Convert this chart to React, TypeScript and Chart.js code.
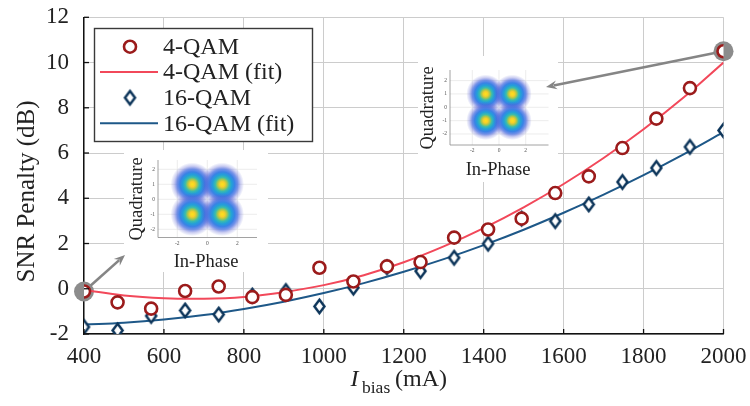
import React, { useEffect, useRef } from "react";
import { Chart, registerables } from "chart.js";
Chart.register(...registerables);

// ---------- data ----------
const biasCurrent = [400, 484, 568, 653, 737, 821, 905, 989, 1074, 1158, 1242, 1326, 1411, 1495, 1579, 1663, 1747, 1832, 1916, 2000];
const qam4Penalty = [-0.12, -0.6, -0.88, -0.1, 0.1, -0.37, -0.27, 0.93, 0.32, 0.99, 1.18, 2.26, 2.62, 3.1, 4.23, 4.97, 6.22, 7.52, 8.87, 10.5];
const qam16Penalty = [-1.69, -1.84, -1.2, -0.96, -1.14, -0.3, -0.1, -0.78, 0.05, 0.95, 0.78, 1.37, 1.99, 3.1, 2.99, 3.73, 4.72, 5.34, 6.27, 7.0];
const fitCurrent = [400, 500, 600, 700, 800, 900, 1000, 1100, 1200, 1300, 1400, 1500, 1600, 1700, 1800, 1900, 2000];
const qam4Fit = [-0.05, -0.3, -0.42, -0.44, -0.36, -0.15, 0.16, 0.6, 1.17, 1.87, 2.68, 3.6, 4.63, 5.78, 7.05, 8.45, 10.0];
const qam16Fit = [-1.58, -1.5, -1.36, -1.16, -0.89, -0.57, -0.19, 0.25, 0.75, 1.31, 1.93, 2.61, 3.36, 4.16, 5.02, 5.94, 6.92];
const xTickValues = [400, 600, 800, 1000, 1200, 1400, 1600, 1800, 2000];
const yTickValues = [-2, 0, 2, 4, 6, 8, 10, 12];
const legendLabels = ["4-QAM", "4-QAM (fit)", "16-QAM", "16-QAM (fit)"];
const insetXTicks = [-2, 0, 2];
const insetYTicks = [2, 1, 0, -1, -2];
const constellationI = [-1, 1, -1, 1];
const constellationQ = [1, 1, -1, -1];

// ---------- styles ----------
const SERIF = '"Liberation Serif", "Times New Roman", "DejaVu Serif", serif';
const RED_MARK = "#9b1b1b";
const RED_FIT = "#f2485a";
const BLUE_MARK = "#0d355a";
const BLUE_FIT = "#1e5888";
const TEXT = "#222222";

function makeDiamond(w: number, h: number, lw: number, stroke: string, fill: string) {
  const c = document.createElement("canvas");
  c.width = Math.ceil(w + lw * 2);
  c.height = Math.ceil(h + lw * 2);
  const ctx = c.getContext("2d")!;
  const cx = c.width / 2, cy = c.height / 2;
  ctx.beginPath();
  ctx.moveTo(cx, cy - h / 2);
  ctx.lineTo(cx + w / 2, cy);
  ctx.lineTo(cx, cy + h / 2);
  ctx.lineTo(cx - w / 2, cy);
  ctx.closePath();
  ctx.fillStyle = fill;
  ctx.fill();
  ctx.lineWidth = lw;
  ctx.strokeStyle = stroke;
  ctx.stroke();
  return c;
}

type Inset = {
  bg: [number, number, number, number];
  left: number; right: number; top: number; bottom: number;
  cx: number; cy: number; unit: number;
  qx: number; qy: number; px: number; py: number;
};

const INSETS: Inset[] = [
  { bg: [124, 150, 268, 272], left: 158, right: 257, top: 160, bottom: 237.5, cx: 207.3, cy: 199.3, unit: 15, qx: 137, qy: 199, px: 206, py: 262 },
  { bg: [418, 56, 558, 182], left: 450, right: 548.5, top: 70, bottom: 145, cx: 499, cy: 107.3, unit: 13.35, qx: 428.5, qy: 108, px: 498, py: 170 },
];

function drawInset(ctx: CanvasRenderingContext2D, s: Inset) {
  ctx.save();
  ctx.fillStyle = "#ffffff";
  ctx.fillRect(s.bg[0], s.bg[1], s.bg[2] - s.bg[0], s.bg[3] - s.bg[1]);
  ctx.strokeStyle = "#e4e4e4";
  ctx.lineWidth = 0.7;
  for (const t of insetXTicks) {
    const x = s.cx + t * s.unit;
    ctx.beginPath(); ctx.moveTo(x, s.top); ctx.lineTo(x, s.bottom); ctx.stroke();
  }
  for (const t of insetYTicks) {
    const y = s.cy - t * s.unit;
    ctx.beginPath(); ctx.moveTo(s.left, y); ctx.lineTo(s.right, y); ctx.stroke();
  }
  ctx.beginPath();
  ctx.rect(s.left, s.top, s.right - s.left, s.bottom - s.top);
  ctx.clip();
  for (let k = 0; k < constellationI.length; k++) {
    const x = s.cx + constellationI[k] * s.unit;
    const y = s.cy - constellationQ[k] * s.unit;
    const R = s.unit * 1.45;
    const g = ctx.createRadialGradient(x, y, 0, x, y, R);
    g.addColorStop(0, "#fce41a");
    g.addColorStop(0.12, "#f7cd2a");
    g.addColorStop(0.22, "#a6c74f");
    g.addColorStop(0.32, "#3cbcaa");
    g.addColorStop(0.44, "#22a0d8");
    g.addColorStop(0.57, "#3a82e6");
    g.addColorStop(0.7, "rgba(70,110,225,0.75)");
    g.addColorStop(0.84, "rgba(80,90,210,0.3)");
    g.addColorStop(1, "rgba(80,90,210,0)");
    ctx.fillStyle = g;
    ctx.beginPath(); ctx.arc(x, y, R, 0, Math.PI * 2); ctx.fill();
  }
  ctx.restore();
  ctx.save();
  ctx.strokeStyle = "#8a8a8a";
  ctx.lineWidth = 0.8;
  ctx.beginPath();
  ctx.moveTo(s.left, s.top); ctx.lineTo(s.left, s.bottom); ctx.lineTo(s.right, s.bottom);
  ctx.stroke();
  ctx.fillStyle = "#555";
  ctx.font = `5.5px ${SERIF}`;
  ctx.textAlign = "center"; ctx.textBaseline = "top";
  for (const t of insetXTicks) ctx.fillText(String(t), s.cx + t * s.unit, s.bottom + 3);
  ctx.textAlign = "right"; ctx.textBaseline = "middle";
  for (const t of insetYTicks) ctx.fillText(String(t), s.left - 3, s.cy - t * s.unit);
  ctx.fillStyle = TEXT;
  ctx.font = `18.5px ${SERIF}`;
  ctx.textAlign = "center"; ctx.textBaseline = "middle";
  ctx.fillText("In-Phase", s.px, s.py);
  ctx.translate(s.qx, s.qy);
  ctx.rotate(-Math.PI / 2);
  ctx.fillText("Quadrature", 0, 0);
  ctx.restore();
}

function drawArrow(ctx: CanvasRenderingContext2D, x0: number, y0: number, x1: number, y1: number) {
  const dx = x1 - x0, dy = y1 - y0;
  const L = Math.hypot(dx, dy);
  const ux = dx / L, uy = dy / L;
  const head = 11, hw = 4.5;
  ctx.save();
  ctx.strokeStyle = "#858585";
  ctx.fillStyle = "#858585";
  ctx.lineWidth = 2.6;
  ctx.beginPath();
  ctx.moveTo(x0, y0);
  ctx.lineTo(x1 - ux * head * 0.7, y1 - uy * head * 0.7);
  ctx.stroke();
  ctx.beginPath();
  ctx.moveTo(x1, y1);
  ctx.lineTo(x1 - ux * head - uy * hw, y1 - uy * head + ux * hw);
  ctx.lineTo(x1 - ux * head * 0.65, y1 - uy * head * 0.65);
  ctx.lineTo(x1 - ux * head + uy * hw, y1 - uy * head - ux * hw);
  ctx.closePath();
  ctx.fill();
  ctx.restore();
}

export default function App() {
  const ref = useRef<HTMLCanvasElement | null>(null);

  useEffect(() => {
    if (!ref.current) return;
    const diamond = makeDiamond(10, 13.5, 2.5, BLUE_MARK, "#ffffff");

    const overlay = {
      id: "overlay",
      beforeDatasetsDraw(chart: any) {
        const ctx: CanvasRenderingContext2D = chart.ctx;
        const xs = chart.scales.x, ys = chart.scales.y;
        INSETS.forEach((s) => drawInset(ctx, s));
        const hi = [0, biasCurrent.length - 1];
        const tips = [[125, 255], [546, 87]];
        hi.forEach((i, k) => {
          const px = xs.getPixelForValue(biasCurrent[i]);
          const py = ys.getPixelForValue(qam4Penalty[i]);
          ctx.save();
          ctx.beginPath();
          ctx.arc(px, py, 10, 0, Math.PI * 2);
          ctx.fillStyle = "#8c8c8c";
          ctx.fill();
          ctx.restore();
          const [tx, ty] = tips[k];
          const d = Math.hypot(tx - px, ty - py);
          drawArrow(ctx, px + ((tx - px) / d) * 9, py + ((ty - py) / d) * 9, tx, ty);
        });
      },
      afterDatasetsDraw(chart: any) {
        const ctx: CanvasRenderingContext2D = chart.ctx;
        ctx.save();
        ctx.fillStyle = "#ffffff";
        ctx.fillRect(94.5, 28.5, 218, 113);
        ctx.strokeStyle = "#3a3a3a";
        ctx.lineWidth = 1.4;
        ctx.strokeRect(94.5, 28.5, 218, 113);
        const rows = [46.7, 72, 97.7, 123.3];
        ctx.beginPath();
        ctx.arc(130, rows[0], 6, 0, Math.PI * 2);
        ctx.fillStyle = "#fff"; ctx.fill();
        ctx.lineWidth = 2.6; ctx.strokeStyle = RED_MARK; ctx.stroke();
        ctx.beginPath(); ctx.moveTo(100, rows[1]); ctx.lineTo(158, rows[1]);
        ctx.lineWidth = 2; ctx.strokeStyle = RED_FIT; ctx.stroke();
        ctx.drawImage(diamond, 130 - diamond.width / 2, rows[2] - diamond.height / 2);
        ctx.beginPath(); ctx.moveTo(100, rows[3]); ctx.lineTo(158, rows[3]);
        ctx.lineWidth = 2; ctx.strokeStyle = BLUE_FIT; ctx.stroke();
        ctx.fillStyle = TEXT;
        ctx.font = `24px ${SERIF}`;
        ctx.textAlign = "left";
        ctx.textBaseline = "middle";
        legendLabels.forEach((t, i) => ctx.fillText(t, 163, rows[i] + 1));
        ctx.restore();
      },
      afterDraw(chart: any) {
        const ctx: CanvasRenderingContext2D = chart.ctx;
        const xs = chart.scales.x, ys = chart.scales.y;
        const a = chart.chartArea;
        ctx.save();
        ctx.strokeStyle = "#111";
        ctx.lineWidth = 1.3;
        for (const v of xTickValues) {
          const x = xs.getPixelForValue(v);
          ctx.beginPath(); ctx.moveTo(x, a.bottom); ctx.lineTo(x, a.bottom - 5); ctx.stroke();
        }
        for (const v of yTickValues) {
          const y = ys.getPixelForValue(v);
          ctx.beginPath(); ctx.moveTo(a.left, y); ctx.lineTo(a.left + 5, y); ctx.stroke();
        }
        ctx.fillStyle = TEXT;
        ctx.save();
        ctx.translate(27, 191.5);
        ctx.rotate(-Math.PI / 2);
        ctx.font = `25px ${SERIF}`;
        ctx.textAlign = "center";
        ctx.textBaseline = "middle";
        ctx.fillText("SNR Penalty (dB)", 0, 0);
        ctx.restore();
        ctx.textAlign = "left";
        ctx.textBaseline = "alphabetic";
        ctx.font = `italic 24px ${SERIF}`;
        ctx.fillText("I", 350.5, 386);
        ctx.font = `17.5px ${SERIF}`;
        ctx.fillText("bias", 362, 393);
        ctx.font = `24px ${SERIF}`;
        ctx.fillText("(mA)", 395, 386);
        ctx.restore();
      },
    };

    const chart = new Chart(ref.current, {
      type: "line",
      data: {
        datasets: [
          {
            label: legendLabels[0],
            data: biasCurrent.map((x, i) => ({ x, y: qam4Penalty[i] })),
            showLine: false,
            pointStyle: "circle",
            pointRadius: 6,
            pointBorderWidth: 2.6,
            pointBorderColor: RED_MARK,
            pointBackgroundColor: "#ffffff",
            borderColor: RED_MARK,
          },
          {
            label: legendLabels[2],
            data: biasCurrent.map((x, i) => ({ x, y: qam16Penalty[i] })),
            showLine: false,
            pointStyle: diamond as any,
            pointRadius: 7,
            borderColor: BLUE_MARK,
          },
          {
            label: legendLabels[1],
            data: fitCurrent.map((x, i) => ({ x, y: qam4Fit[i] })),
            borderColor: RED_FIT,
            borderWidth: 2,
            pointRadius: 0,
            tension: 0.4,
            fill: false,
          },
          {
            label: legendLabels[3],
            data: fitCurrent.map((x, i) => ({ x, y: qam16Fit[i] })),
            borderColor: BLUE_FIT,
            borderWidth: 2,
            pointRadius: 0,
            tension: 0.4,
            fill: false,
          },
        ],
      } as any,
      options: {
        responsive: false,
        animation: false,
        events: [],
        layout: { padding: { left: 0, top: 17.3, right: 26.5, bottom: 0 } },
        plugins: { legend: { display: false }, tooltip: { enabled: false } },
        scales: {
          x: {
            type: "linear",
            min: 400,
            max: 2000,
            afterFit: (s: any) => { s.height = 72; },
            afterBuildTicks: (s: any) => { s.ticks = xTickValues.map((v) => ({ value: v })); },
            ticks: { color: TEXT, font: { family: SERIF, size: 23 }, padding: 0, maxRotation: 0, callback: (v: any) => String(v) },
            grid: { color: "#cccccc", lineWidth: 1, drawTicks: true, tickLength: 9, tickColor: "rgba(0,0,0,0)" },
            border: { color: "#111111", width: 1.4 },
          },
          y: {
            min: -2,
            max: 12,
            afterFit: (s: any) => { s.width = 84; },
            afterBuildTicks: (s: any) => { s.ticks = yTickValues.map((v) => ({ value: v })); },
            ticks: { color: TEXT, font: { family: SERIF, size: 23 }, padding: 0, callback: (v: any) => String(v) },
            grid: { color: "#cccccc", lineWidth: 1, drawTicks: true, tickLength: 15, tickColor: "rgba(0,0,0,0)" },
            border: { color: "#111111", width: 1.4 },
          },
        },
      } as any,
      plugins: [overlay],
    });

    let alive = true;
    const fontsToLoad = ['24px "Liberation Serif"', 'italic 24px "Liberation Serif"'];
    Promise.all(fontsToLoad.map((f) => (document as any).fonts.load(f)))
      .then(() => { if (alive) chart.update(); })
      .catch(() => {});

    return () => { alive = false; chart.destroy(); };
  }, []);

  return (
    <div style={{ position: "absolute", left: 0, top: 0, width: 750, height: 406, background: "#fff" }}>
      <canvas ref={ref} width={750} height={406} style={{ display: "block" }} />
    </div>
  );
}
